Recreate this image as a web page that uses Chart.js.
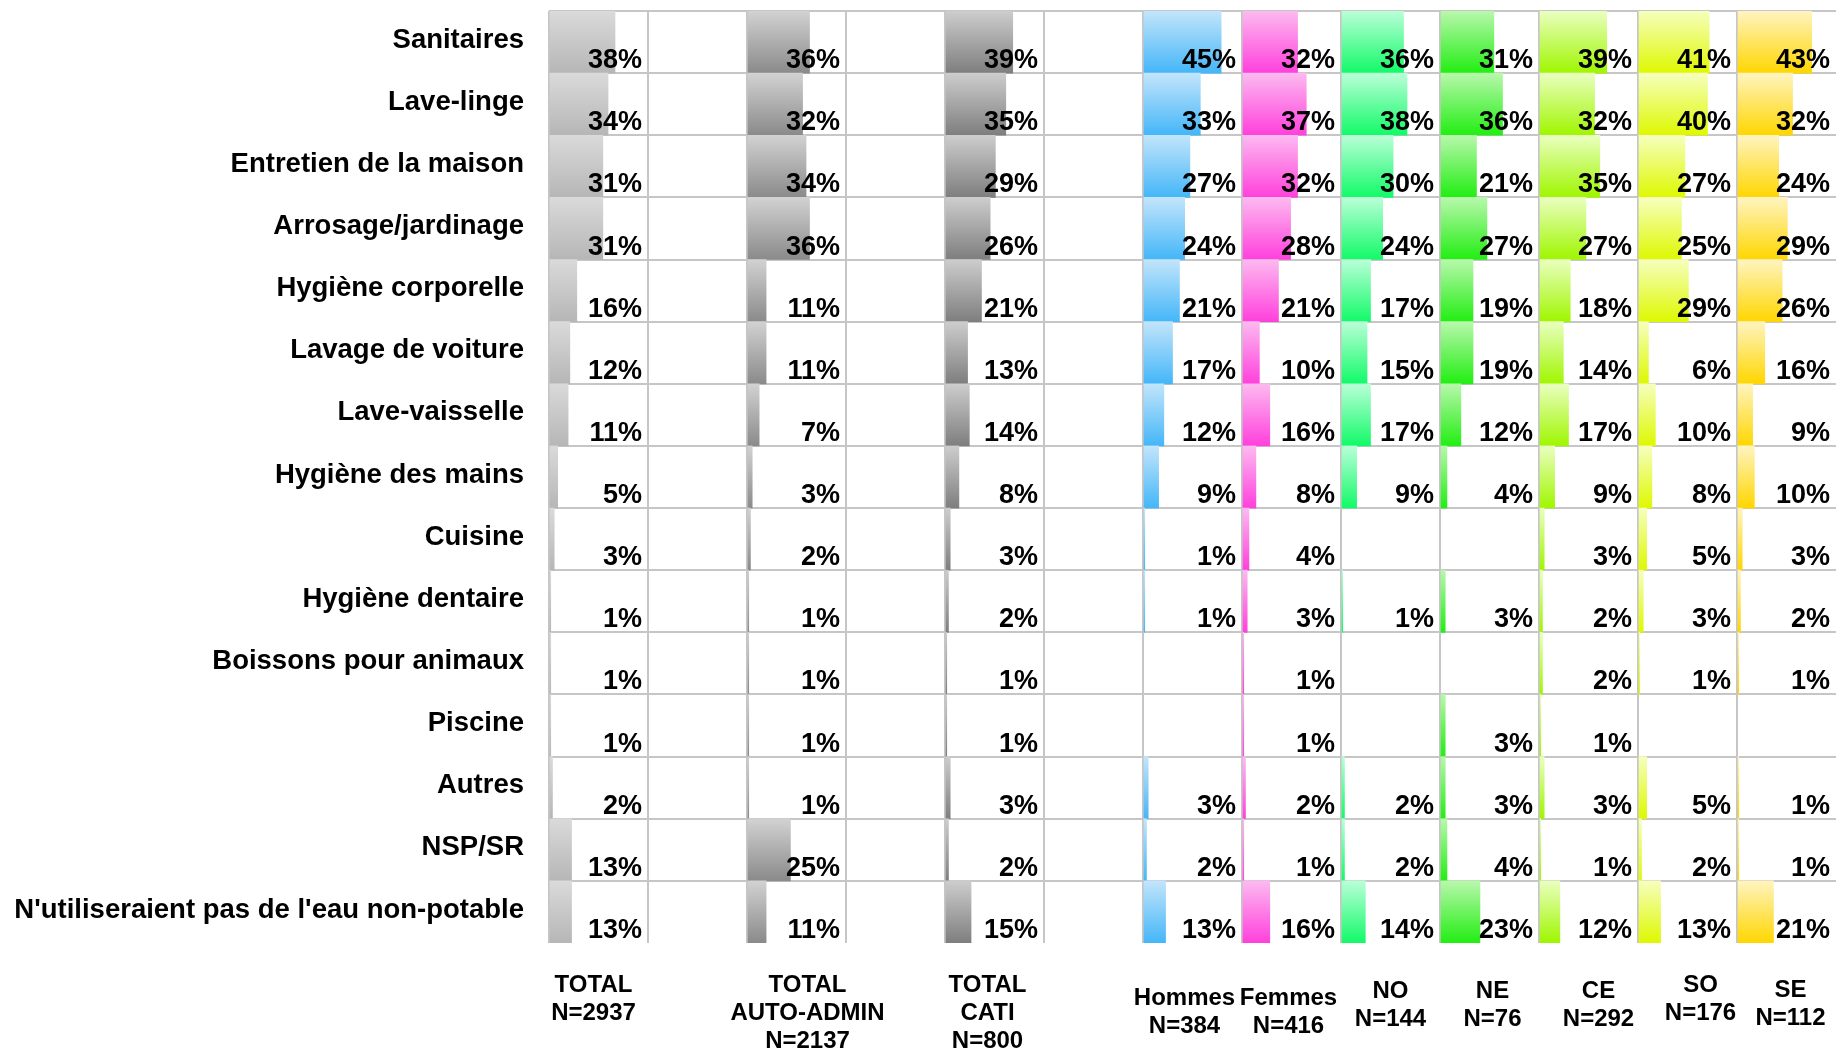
<!DOCTYPE html>
<html>
<head>
<meta charset="utf-8">
<script src="https://cdn.jsdelivr.net/npm/chart.js@4.4.1/dist/chart.umd.min.js"></script>
<style>
  html, body { margin: 0; padding: 0; background: #fff; }
  #wrap { width: 1836px; height: 1051px; }
</style>
</head>
<body>
<div id="wrap"><canvas id="grafico" width="1836" height="1051"></canvas></div>
<script>
// --- Données ---
const categories = [
    'Sanitaires', 'Lave-linge', 'Entretien de la maison', 'Arrosage/jardinage',
    'Hygiène corporelle', 'Lavage de voiture', 'Lave-vaisselle', 'Hygiène des mains',
    'Cuisine', 'Hygiène dentaire', 'Boissons pour animaux', 'Piscine', 'Autres',
    'NSP/SR', "N'utiliseraient pas de l'eau non-potable"
];

const columnHeaders = [
    ['TOTAL', 'N=2937'],
    ['TOTAL', 'AUTO-ADMIN', 'N=2137'],
    ['TOTAL', 'CATI', 'N=800'],
    ['Hommes', 'N=384'],
    ['Femmes', 'N=416'],
    ['NO', 'N=144'],
    ['NE', 'N=76'],
    ['CE', 'N=292'],
    ['SO', 'N=176'],
    ['SE', 'N=112']
];

const total     = [38, 34, 31, 31, 16, 12, 11, 5, 3, 1, 1, 1, 2, 13, 13];
const autoAdmin = [36, 32, 34, 36, 11, 11, 7, 3, 2, 1, 1, 1, 1, 25, 11];
const cati      = [39, 35, 29, 26, 21, 13, 14, 8, 3, 2, 1, 1, 3, 2, 15];
const hommes    = [45, 33, 27, 24, 21, 17, 12, 9, 1, 1, null, null, 3, 2, 13];
const femmes    = [32, 37, 32, 28, 21, 10, 16, 8, 4, 3, 1, 1, 2, 1, 16];
const regionNO  = [36, 38, 30, 24, 17, 15, 17, 9, null, 1, null, null, 2, 2, 14];
const regionNE  = [31, 36, 21, 27, 19, 19, 12, 4, null, 3, null, 3, 3, 4, 23];
const regionCE  = [39, 32, 35, 27, 18, 14, 17, 9, 3, 2, 2, 1, 3, 1, 12];
const regionSO  = [41, 40, 27, 25, 29, 6, 10, 8, 5, 3, 1, null, 5, 2, 13];
const regionSE  = [43, 32, 24, 29, 26, 16, 9, 10, 3, 2, 1, null, 1, 1, 21];

const seriesValues = [total, autoAdmin, cati, hommes, femmes, regionNO, regionNE, regionCE, regionSO, regionSE];

// --- Mise en page / styles ---
const FONT = '"Liberation Sans", Arial, sans-serif';
const GRID = '#c6c6c6';
const SLOT_COUNT = 13;                       // 13 colonnes de même largeur
const seriesSlots = [0, 2, 4, 6, 7, 8, 9, 10, 11, 12];
const SCALE_MAX = 57;                        // une colonne = 57 %
// décalage des en-têtes sous le graphique (px)
const headerOffsets = [49, 49, 49, 62, 62, 55, 55, 55, 49, 54];
const headerShiftX  = [-5, 11, -7, -8, -3, 0, 3, 10, 13, 4];

// dégradés (haut -> bas)
const gradients = [
    ['#dadada', '#b6b6b6'],
    ['#d2d2d2', '#8a8a8a'],
    ['#cdcdcd', '#7e7e7e'],
    ['#c2e5fb', '#44b6f8'],
    ['#fcbaf0', '#ff40dc'],
    ['#baffd8', '#12fa68'],
    ['#b8f8ac', '#22ee12'],
    ['#eaffc0', '#9ff600'],
    ['#f6ffbe', '#def800'],
    ['#fff4c0', '#ffd600']
];

function barFill(context, stops) {
    const chart = context.chart;
    const yScale = chart.scales.y;
    if (!yScale || !chart.chartArea || context.dataIndex === undefined) return stops[1];
    const center = yScale.getPixelForValue(context.dataIndex);
    const half = yScale.height / categories.length / 2;
    if (!isFinite(center) || !isFinite(half) || half <= 0) return stops[1];
    const g = chart.ctx.createLinearGradient(0, center - half, 0, center + half);
    g.addColorStop(0, stops[0]);
    g.addColorStop(1, stops[1]);
    return g;
}

// Axes x empilés côte à côte (une colonne chacun)
const scales = {};
for (let i = 0; i < SLOT_COUNT; i++) {
    scales['x' + i] = {
        type: 'linear',
        axis: 'x',
        position: 'bottom',
        stack: 'cols',
        stackWeight: 1,
        min: 0,
        max: SCALE_MAX,
        ticks: { display: false },
        grid: { color: GRID, lineWidth: 2, drawTicks: false },
        border: { display: false },
        afterBuildTicks: s => { s.ticks = [{ value: 0 }]; }
    };
}
scales.y = {
    type: 'category',
    labels: categories,
    offset: true,
    grid: {
        offset: true,
        lineWidth: 2,
        drawTicks: false,
        color: c => (c.type === 'tick' ? GRID : 'rgba(0,0,0,0)')
    },
    border: { display: false },
    ticks: {
        color: '#000',
        padding: 25,
        labelOffset: -2,
        autoSkip: false,
        font: { family: FONT, size: 27.5, weight: 'bold' }
    },
    afterFit: s => {
        s.width = 549;
        s.paddingTop = 0;
        s.paddingBottom = 0;
    }
};

const datasets = seriesValues.map((values, i) => ({
    label: columnHeaders[i].join(' '),
    data: values,
    xAxisID: 'x' + seriesSlots[i],
    yAxisID: 'y',
    grouped: false,
    barPercentage: 1,
    categoryPercentage: 1,
    borderWidth: 0,
    backgroundColor: ctx => barFill(ctx, gradients[i])
}));

// Étiquettes des pourcentages et en-têtes de colonnes
const labelsPlugin = {
    id: 'cellLabels',
    afterDatasetsDraw(chart) {
        const ctx = chart.ctx;
        ctx.save();
        ctx.font = 'bold 27px ' + FONT;
        ctx.fillStyle = '#000';
        ctx.textAlign = 'right';
        ctx.textBaseline = 'alphabetic';
        chart.data.datasets.forEach((ds, i) => {
            const xs = chart.scales[ds.xAxisID];
            const meta = chart.getDatasetMeta(i);
            meta.data.forEach((bar, j) => {
                if (ds.data[j] === null) return;
                const { y, height } = bar.getProps(['y', 'height'], true);
                ctx.fillText(ds.data[j] + '%', xs.right - 6, y + height / 2 - 5);
            });
        });
        ctx.restore();
    },
    afterDraw(chart) {
        const ctx = chart.ctx;
        ctx.save();
        ctx.font = 'bold 24px ' + FONT;
        ctx.fillStyle = '#000';
        ctx.textAlign = 'center';
        ctx.textBaseline = 'alphabetic';
        chart.data.datasets.forEach((ds, i) => {
            const xs = chart.scales[ds.xAxisID];
            const cx = (xs.left + xs.right) / 2 + headerShiftX[i];
            const top = chart.chartArea.bottom + headerOffsets[i];
            columnHeaders[i].forEach((line, k) => ctx.fillText(line, cx, top + k * 28));
        });
        ctx.restore();
    }
};

window.myChart = new Chart(document.getElementById('grafico').getContext('2d'), {
    type: 'bar',
    data: { labels: categories, datasets: datasets },
    options: {
        indexAxis: 'y',
        responsive: false,
        devicePixelRatio: 1,
        animation: false,
        layout: { padding: { top: 11, right: 0, bottom: 108, left: 0 } },
        plugins: { legend: { display: false }, tooltip: { enabled: false } },
        scales: scales
    },
    plugins: [labelsPlugin]
});
</script>
</body>
</html>
